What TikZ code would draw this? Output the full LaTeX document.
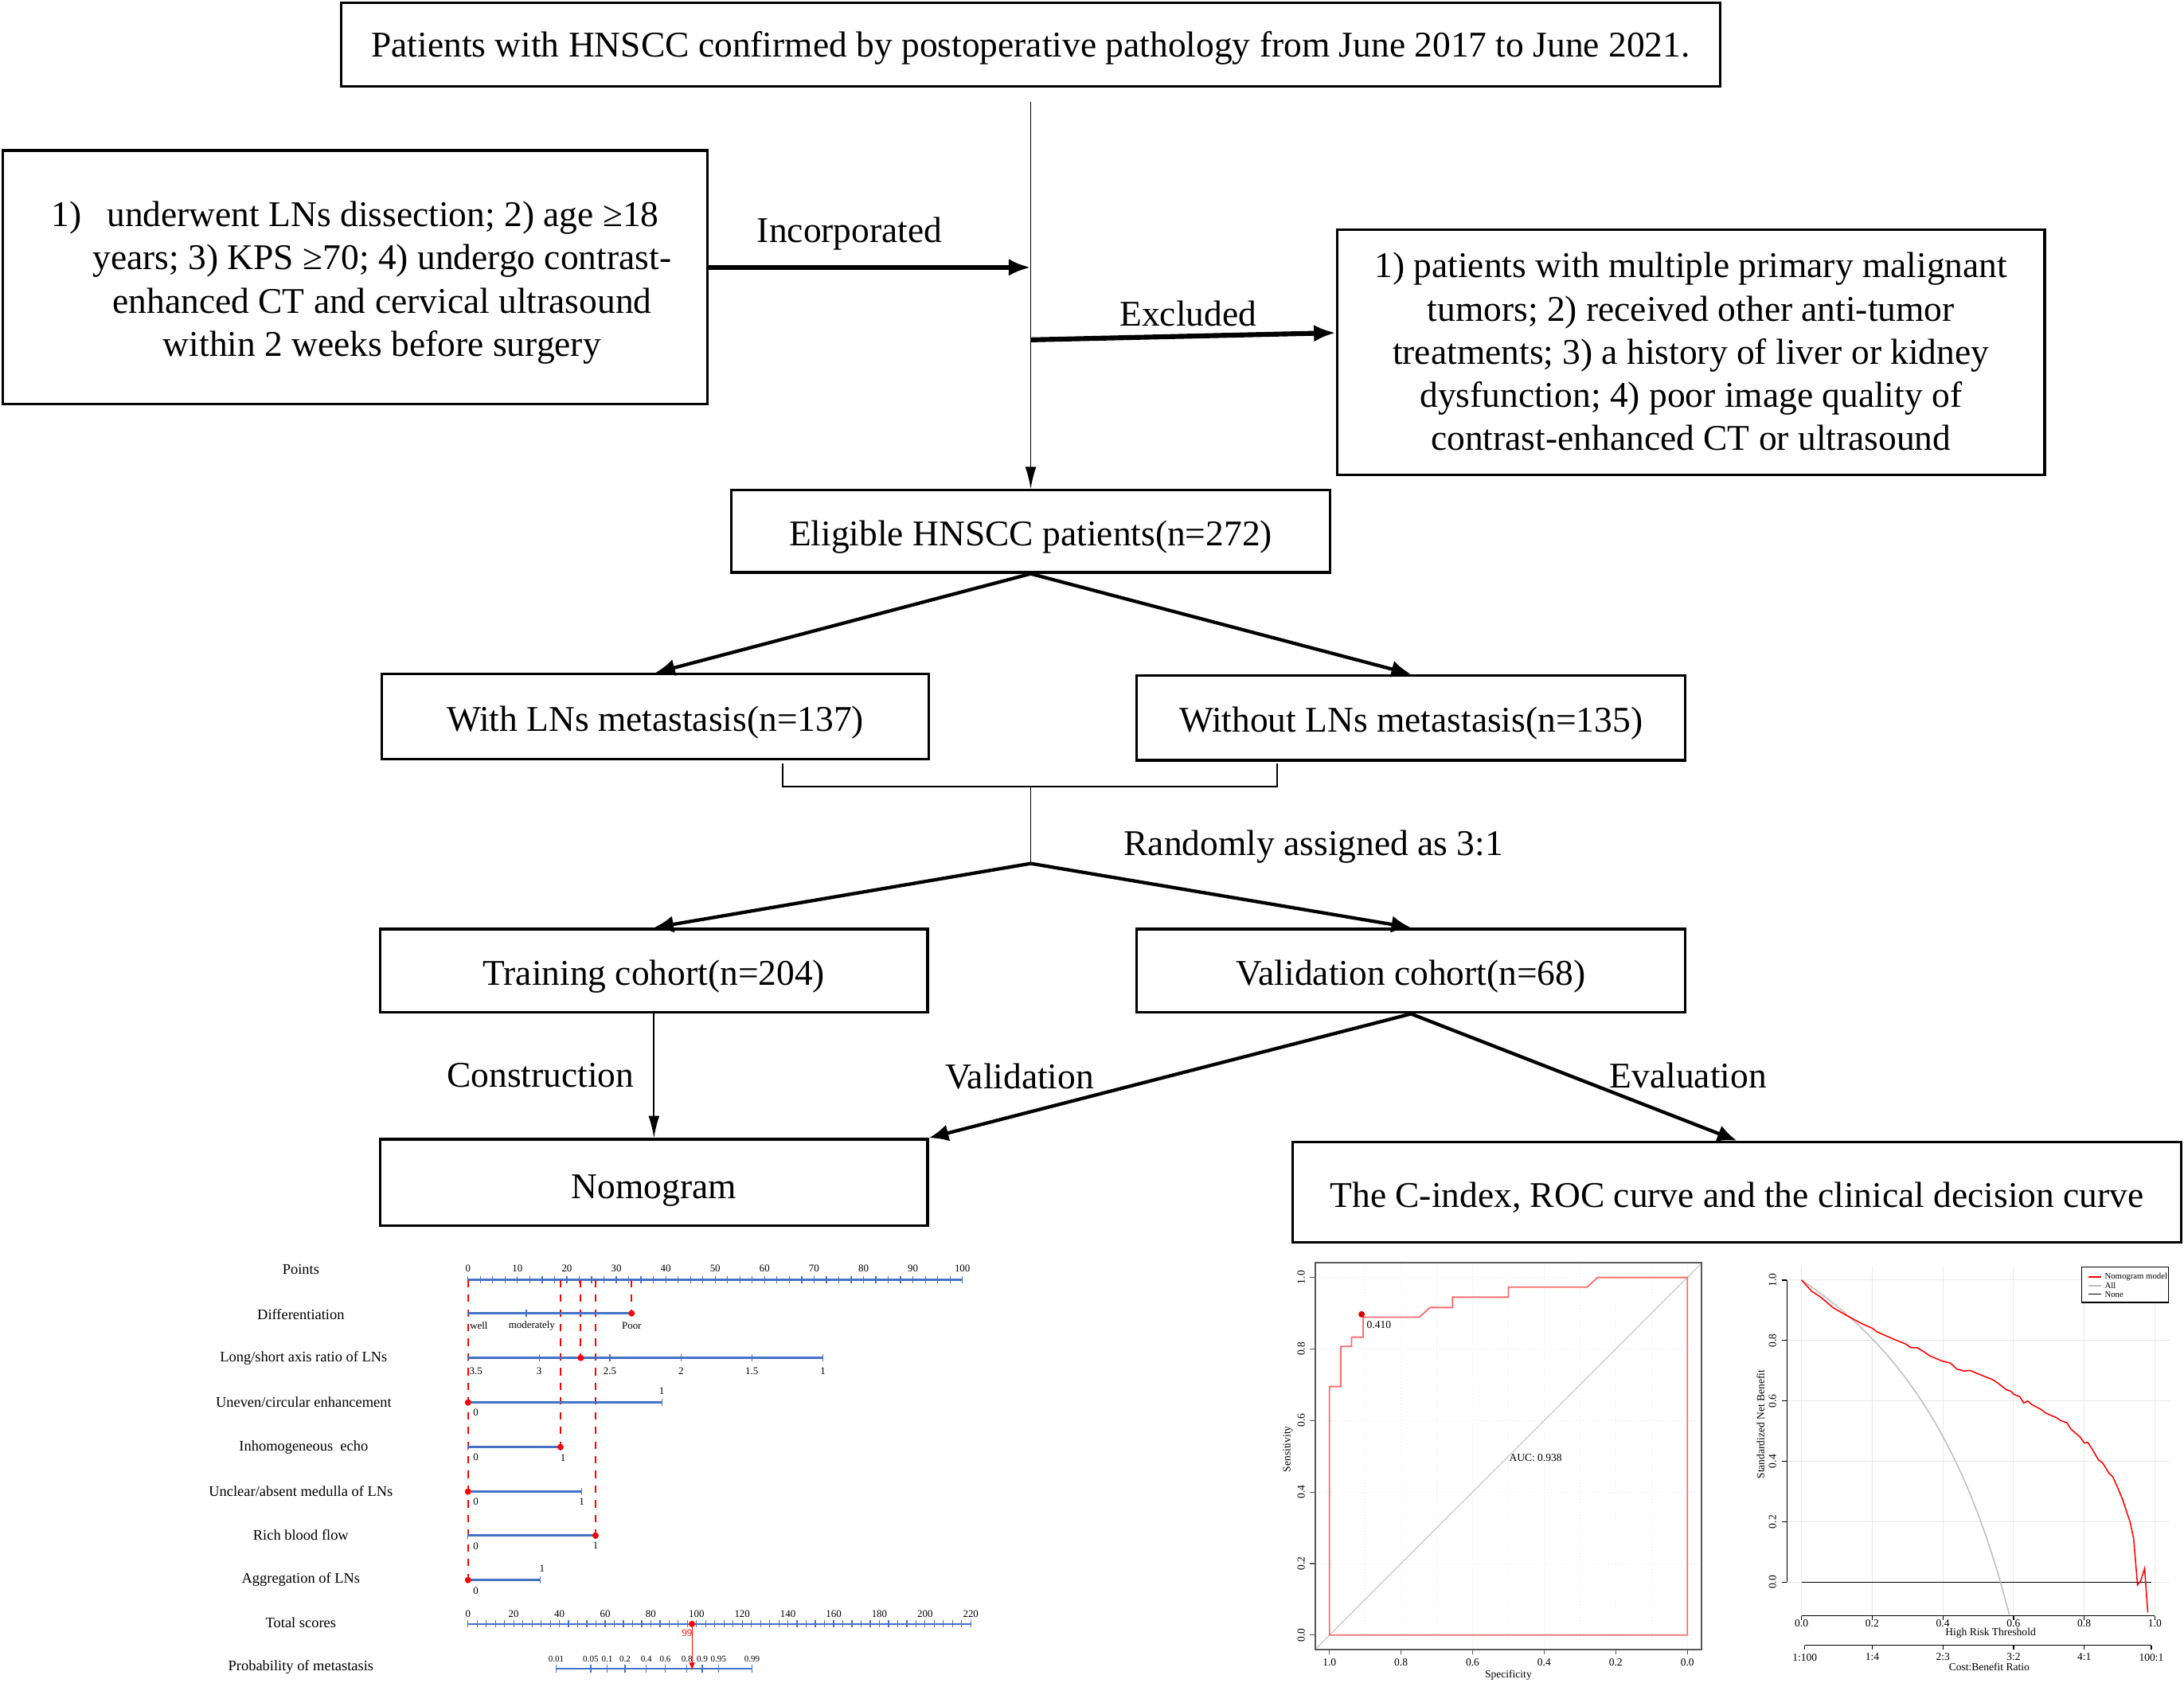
\documentclass[tikz,border=0pt]{standalone}
\usepackage{fontspec}
\setmainfont{Liberation Serif}
\usetikzlibrary{arrows.meta,positioning,calc}

\definecolor{nomoblue}{RGB}{68,114,196}
\definecolor{rocred}{RGB}{250,110,110}
\definecolor{diaggray}{RGB}{200,200,200}
\definecolor{gridgray}{RGB}{232,232,232}
\definecolor{allgray}{RGB}{190,190,190}

% lower the text in a box without changing the box size
\newcommand{\lowtext}[2][2.3pt]{\raisebox{-#1}[\height][\depth]{#2}}

\tikzset{
    box/.style={draw, line width=1.1pt, inner sep=2pt,
        font=\fontsize{14.8}{17.6}\selectfont},
    lbl/.style={font=\fontsize{14.8}{17.6}\selectfont},
    flow/.style={-{Latex[length=8pt,width=7pt]}, line width=1.4pt},
    bold flow/.style={-{Latex[length=9pt,width=7pt]}, line width=2pt},
    thin flow/.style={-{Latex[length=9pt,width=4.5pt]}, line width=0.6pt},
    rowlbl/.style={font=\fontsize{6}{7}\selectfont},
    ticklbl/.style={font=\fontsize{4.2}{5}\selectfont, inner sep=0pt},
    problbl/.style={font=\fontsize{3.6}{4}\selectfont, inner sep=0pt},
    plotlbl/.style={font=\fontsize{4.4}{5}\selectfont, inner sep=0pt},
    axis/.style={nomoblue, line width=0.8pt},
    tickmark/.style={nomoblue, line width=0.4pt},
    guide/.style={red, dashed, line width=0.6pt},
}

\begin{document}
\begin{tikzpicture}[x=0.02cm, y=-0.02cm]
\useasboundingbox (0,0) rectangle (1568,1208);

% flow chart boxes
\node[box, minimum width=19.8cm, minimum height=1.2cm] (src) at (740,32)
    {\lowtext[1.4pt]{Patients with HNSCC confirmed by postoperative pathology from June 2017 to June 2021.}};
\node[box, minimum width=10.12cm, minimum height=3.64cm] (incl) at (255,199)
    {\lowtext{\begin{tabular}{@{}c@{}}
     1)\hspace{0.7em}underwent LNs dissection; 2) age ≥18\\
     \hspace*{22pt}years; 3) KPS ≥70; 4) undergo contrast-\\
     \hspace*{22pt}enhanced CT and cervical ultrasound\\
     \hspace*{22pt}within 2 weeks before surgery\end{tabular}}};
\node[box, minimum width=10.16cm, minimum height=3.52cm] (excl) at (1214,253)
    {\lowtext[1.2pt]{\begin{tabular}{@{}c@{}}
     1) patients with multiple primary malignant\\
     tumors; 2) received other anti-tumor\\
     treatments; 3) a history of liver or kidney\\
     dysfunction; 4) poor image quality of\\
     contrast-enhanced CT or ultrasound\end{tabular}}};
\node[box, minimum width=8.6cm, minimum height=1.18cm] (elig) at (740,381.5) {\lowtext{Eligible HNSCC patients(n=272)}};
\node[box, minimum width=7.86cm, minimum height=1.22cm] (withln) at (470.5,514.5) {\lowtext{With LNs metastasis(n=137)}};
\node[box, minimum width=7.88cm, minimum height=1.22cm] (woln) at (1013,515.5) {\lowtext{Without LNs metastasis(n=135)}};
\node[box, minimum width=7.86cm, minimum height=1.2cm] (train) at (469.5,697) {\lowtext{Training cohort(n=204)}};
\node[box, minimum width=7.88cm, minimum height=1.2cm] (valid) at (1013,697) {\lowtext{Validation cohort(n=68)}};
\node[box, minimum width=7.86cm, minimum height=1.24cm] (nomo) at (469.5,849) {\lowtext[3.3pt]{Nomogram}};
\node[box, minimum width=12.76cm, minimum height=1.44cm] (eval) at (1247,856) {\lowtext{The C-index, ROC curve and the clinical decision curve}};

% labels on the arrows
\node[lbl] (incorp) at (610,168) {Incorporated};
\node[lbl] (exclu) at (853,225) {Excluded};
\node[lbl] (rand) at (943,608) {Randomly assigned as 3:1};
\node[lbl] (constr) at (388,772) {Construction};
\node[lbl] (valtxt) at (732,773) {Validation};
\node[lbl] (evaltxt) at (1212,772) {Evaluation};

% connectors
\coordinate (srcout) at ($(src.south)+(0,10)$);
\coordinate (inc) at (740,192);
\coordinate (exc) at (740,244);
\draw[thin flow] (srcout) -- (elig.north);
\draw[bold flow] (incl.east |- inc) -- (inc);
\draw[bold flow] (exc) -- ([yshift=8pt]excl.west);
\draw[flow] (elig.south) -- (withln.north);
\draw[flow] (elig.south) -- (woln.north);

\coordinate (brl) at (562,548);
\coordinate (brr) at (917,548);
\coordinate (brm) at (740,565);
\coordinate (split) at (740,620);
\draw[line width=0.6pt] (brl) |- (brm) -| (brr);
\draw[line width=0.6pt] (brm) -- (split);
\draw[flow] (split) -- (train.north);
\draw[flow] (split) -- (valid.north);
\draw[thin flow] (train.south) -- (nomo.north);
\draw[flow] (valid.south) -- (nomo.north east);
\draw[flow] (valid.south) -- (eval.north);

% nomogram: row names
\node[rowlbl] (rPoints) at (216,911.5) {Points};
\node[rowlbl] (rDiff) at (216,944) {Differentiation};
\node[rowlbl] (rRatio) at (218,975) {Long/short axis ratio of LNs};
\node[rowlbl] (rEnh) at (218,1007) {Uneven/circular enhancement};
\node[rowlbl] (rEcho) at (218,1039) {Inhomogeneous\ \ echo};
\node[rowlbl] (rMed) at (216,1070.5) {Unclear/absent medulla of LNs};
\node[rowlbl] (rFlow) at (216,1102) {Rich blood flow};
\node[rowlbl] (rAgg) at (216,1134) {Aggregation of LNs};
\node[rowlbl] (rTotal) at (216,1165) {Total scores};
\node[rowlbl] (rProb) at (216,1197) {Probability of metastasis};

% nomogram: point scales (x in points)
\begin{scope}[shift={(336,0)}, x=0.071cm]
\draw[axis] (0,919) -- (100,919);
\foreach \p in {0,2.5,...,100} \draw[tickmark] (\p,916.5) -- (\p,921.5);
\foreach \p in {0,10,...,100} \node[ticklbl] at (\p,911) {\p};

\draw[guide] (0,919) -- (0,1134.5);
\draw[guide] (18.7,919) -- (18.7,1039);
\draw[guide] (22.8,919) -- (22.8,975);
\draw[guide] (25.8,919) -- (25.8,1102.5);
\draw[guide] (33.1,919) -- (33.1,943);

% Differentiation
\draw[axis] (0,943) -- (33.1,943);
\foreach \p in {0,11.8,33.1} \draw[tickmark] (\p,940.5) -- (\p,945.5);
\node[ticklbl, anchor=west] at (0.3,952) {well};
\node[ticklbl] at (12.9,952) {moderately};
\node[ticklbl] at (33.1,952) {Poor};
\fill[red] (33.1,943) circle (1.3pt);

% Long/short axis ratio
\draw[axis] (0,975) -- (71.8,975);
\foreach \p/\v in {14.4/3,28.7/2.5,43.1/2,57.4/1.5,71.8/1} {
    \draw[tickmark] (\p,972.5) -- (\p,977.5);
    \node[ticklbl] at (\p,984.5) {\v};
}
\draw[tickmark] (0,972.5) -- (0,977.5);
\node[ticklbl] at (1.6,984.5) {3.5};
\fill[red] (22.8,975) circle (1.3pt);

% binary rows
\foreach \y/\e in {1007/39.2,1039/18.7,1071/23.0,1102.5/25.8,1134.5/14.6} {
    \draw[axis] (0,\y) -- (\e,\y);
    \draw[tickmark] (0,\y-2.5) -- (0,\y+2.5);
    \draw[tickmark] (\e,\y-2.5) -- (\e,\y+2.5);
    \node[ticklbl] at (1.6,\y+7.5) {0};
}
\node[ticklbl] at (39.2,998.7) {1};
\node[ticklbl] at (19.2,1046.5) {1};
\node[ticklbl] at (23.0,1078.5) {1};
\node[ticklbl] at (25.8,1109.5) {1};
\node[ticklbl] at (15.0,1126.5) {1};
\foreach \p/\y in {0/1007,18.7/1039,0/1071,25.8/1102.5,0/1134.5}
    \fill[red] (\p,\y) circle (1.3pt);
\end{scope}

% nomogram: total scores and probability (x in total points)
\begin{scope}[shift={(336,0)}, x=0.03282cm]
\draw[axis] (0,1166) -- (220,1166);
\foreach \p in {0,4,...,220} \draw[tickmark] (\p,1163.5) -- (\p,1168.5);
\foreach \p in {0,20,...,220} \node[ticklbl] at (\p,1159) {\p};
\draw[axis] (38.6,1198) -- (124.3,1198);
\foreach \p/\v in {38.6/0.01,53.7/0.05,60.9/0.1,68.7/0.2,78.0/0.4,86.3/0.6,95.8/0.8,102.5/0.9,109.6/0.95,124.3/0.99} {
    \draw[tickmark] (\p,1195) -- (\p,1201);
    \node[problbl] at (\p,1191) {\v};
}
\fill[red] (98,1166) circle (1.3pt);
\node[ticklbl, red] at (95.8,1172.5) {99};
\draw[red, line width=0.3pt, -{Latex[length=3pt,width=2.5pt]}] (98,1166) -- (98,1199);
\end{scope}

% ROC curve (x = specificity, y = sensitivity)
\begin{scope}[shift={(1211.4,1174)}, x=-5.14cm, y=5.136cm]
\foreach \s in {0,0.1,...,1.0} \draw[gridgray, densely dotted, line width=0.3pt] (\s,-0.04) -- (\s,1.041);
\foreach \v in {0,0.2,...,1.0} \draw[gridgray, densely dotted, line width=0.3pt] (1.039,\v) -- (-0.04,\v);
\begin{scope}
\clip (1.039,-0.04) rectangle (-0.04,1.041);
\draw[diaggray, line width=0.4pt] (1.04,-0.04) -- (-0.04,1.04);
\end{scope}
\draw[rocred, line width=0.6pt] (1,0) -- (1,0.695) -- (0.9685,0.695) -- (0.9685,0.807)
    -- (0.938,0.807) -- (0.938,0.833) -- (0.906,0.833) -- (0.906,0.889) -- (0.749,0.889)
    -- (0.719,0.916) -- (0.656,0.916) -- (0.656,0.945) -- (0.5,0.945) -- (0.5,0.973)
    -- (0.28,0.973) -- (0.251,1) -- (0,1) -- (0,0) -- cycle;
\fill[red!85!black] (0.91,0.897) circle (1.3pt);
\node[plotlbl, anchor=west] (thr) at (0.897,0.868) {0.410};
\node[plotlbl, anchor=west] (auc) at (0.499,0.495) {AUC: 0.938};
\draw[black!65, line width=0.5pt] (1.039,-0.04) rectangle (-0.04,1.041);
\foreach \s in {0.0,0.2,0.4,0.6,0.8,1.0} {
    \draw[black!65, line width=0.4pt] (\s,-0.04) -- (\s,-0.055);
    \node[plotlbl] at (\s,-0.076) {\s};
    \draw[black!65, line width=0.4pt] (1.039,\s) -- (1.054,\s);
    \node[plotlbl, rotate=90] at (1.079,\s) {\s};
}
\node[plotlbl] (spec) at (0.5,-0.113) {Specificity};
\node[plotlbl, rotate=90] (sens) at (1.116,0.52) {Sensitivity};
\end{scope}

% decision curve (x = threshold, y = standardized net benefit)
\begin{scope}[shift={(1293.4,1136.1)}, x=5.074cm, y=4.34cm]
\foreach \t in {0,0.2,...,1.0} \draw[gridgray, line width=0.3pt] (\t,-0.111) -- (\t,1.044);
\foreach \v in {0,0.2,...,1.0} \draw[gridgray, line width=0.3pt] (-0.041,\v) -- (1.041,\v);
\draw[black, line width=0.4pt] (0,0) -- (0.99,0);
\draw[allgray, line width=0.5pt, domain=0:0.588, samples=60] plot (\x, {1-0.776*\x/(1-\x)});
\draw[red, line width=0.5pt] plot coordinates {(0,1) (0.029,0.963) (0.055,0.943) (0.089,0.909)
    (0.114,0.892) (0.14,0.875) (0.174,0.854) (0.2,0.841) (0.213,0.829) (0.26,0.805)
    (0.294,0.789) (0.311,0.776) (0.328,0.776) (0.345,0.764) (0.362,0.75) (0.396,0.733)
    (0.422,0.725) (0.439,0.706) (0.46,0.699) (0.477,0.701) (0.516,0.682) (0.541,0.671)
    (0.558,0.657) (0.58,0.637) (0.593,0.632) (0.601,0.622) (0.618,0.614) (0.629,0.593)
    (0.64,0.6) (0.652,0.588) (0.678,0.572) (0.691,0.56) (0.721,0.545) (0.734,0.535)
    (0.751,0.528) (0.763,0.506) (0.789,0.48) (0.8,0.461) (0.81,0.463) (0.823,0.44)
    (0.84,0.406) (0.853,0.394) (0.87,0.361) (0.881,0.349) (0.896,0.31) (0.909,0.273)
    (0.93,0.199) (0.94,0.144) (0.951,-0.009) (0.96,0.005) (0.971,0.046) (0.98,-0.1)};
% legend
\draw[fill=white, line width=0.4pt] (0.793,0.926) rectangle (1.039,1.044);
\draw[red, line width=0.6pt] (0.812,1.011) -- (0.849,1.011);
\draw[allgray, line width=0.5pt] (0.812,0.981) -- (0.849,0.981);
\draw[black, line width=0.4pt] (0.812,0.953) -- (0.849,0.953);
\node[font=\fontsize{3.5}{4}\selectfont, inner sep=0pt, anchor=west] (lgNomo) at (0.857,1.011) {Nomogram model};
\node[font=\fontsize{3.5}{4}\selectfont, inner sep=0pt, anchor=west] (lgAll) at (0.857,0.981) {All};
\node[font=\fontsize{3.5}{4}\selectfont, inner sep=0pt, anchor=west] (lgNone) at (0.857,0.953) {None};
% axes
\draw[line width=0.4pt] (0,-0.111) -- (1,-0.111);
\foreach \t in {0.0,0.2,0.4,0.6,0.8,1.0} {
    \draw[line width=0.4pt] (\t,-0.111) -- (\t,-0.125);
    \node[plotlbl] at (\t,-0.135) {\t};
}
\node[plotlbl] (thrlbl) at (0.535,-0.169) {High Risk Threshold};
\draw[line width=0.4pt] (0.0094,-0.209) -- (0.99,-0.209);
\foreach \t/\r in {0.0094/1:100,0.2/1:4,0.4/2:3,0.6/3:2,0.8/4:1,0.99/100:1} {
    \draw[line width=0.4pt] (\t,-0.209) -- (\t,-0.222);
    \node[plotlbl] at (\t,-0.248) {\r};
}
\node[plotlbl] (cbr) at (0.531,-0.281) {Cost:Benefit Ratio};
\draw[line width=0.4pt] (-0.041,0) -- (-0.041,1);
\foreach \v in {0.0,0.2,0.4,0.6,0.8,1.0} {
    \draw[line width=0.4pt] (-0.041,\v) -- (-0.055,\v);
    \node[plotlbl, rotate=90] at (-0.082,\v) {\v};
}
\node[plotlbl, rotate=90] (snb) at (-0.116,0.523) {Standardized Net Benefit};
\end{scope}
\end{tikzpicture}
\end{document}
